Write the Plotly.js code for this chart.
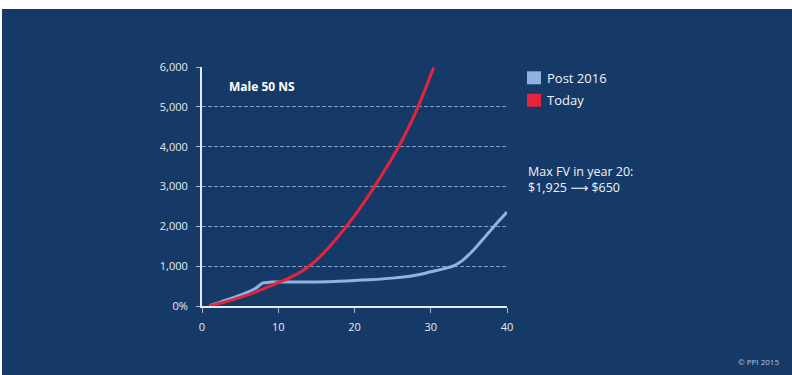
<!DOCTYPE html>
<html>
<head>
<meta charset="utf-8">
<script src="https://cdn.plot.ly/plotly-3.0.1.min.js"></script>
<style>
  html, body { margin: 0; padding: 0; background: #ffffff; width: 792px; height: 375px; overflow: hidden; }
  #chart { position: absolute; left: 2px; top: 9px; width: 790px; height: 366px; }
</style>
</head>
<body>
<div id="chart"></div>
<script>
// ---- data ----
const years = [1,2,3,4,5,6,7,8,9,10,11,12,13,14,15,16,17,18,19,20,21,22,23,24,25,26,27,28,29,30,30.4];
const todayValues = [5,50,100,155,215,280,350,425,505,590,665,755,860,990,1150,1340,1550,1775,2015,2270,2535,2815,3110,3420,3735,4075,4445,4855,5305,5795,5990];

const postYears = [1,2,3,4,5,6,7,8,9,10,12,15,18,20,22,25,27,28,29,30,31,32,33,34,35,36,37,38,39,40];
const postValues = [10,70,140,200,270,350,440,580,600,600,600,605,620,640,660,700,740,770,810,860,900,950,1010,1120,1290,1490,1710,1930,2150,2360];

const seriesNames = ["Post 2016", "Today"];
const seriesColors = ["#8fb4e3", "#e5233c"];

const yTickVals = [0,1000,2000,3000,4000,5000,6000];
const yTickText = ["0%","1,000","2,000","3,000","4,000","5,000","6,000"];
const xTickVals = [0,10,20,30,40];
const xTickText = ["0","10","20","30","40"];

const panelLabel = "Male 50 NS";
const noteLines = ["Max FV in year 20:", "$1,925 \u27F6 $650"];
const credit = "\u00A9 PPI 2015";

// ---- layout helpers (page pixel -> paper coords) ----
const divLeft = 2, divTop = 9, W = 790, H = 366;
const plotL = 202, plotR = 507, plotT = 66.7, plotB = 306;
const px = p => (p - plotL) / (plotR - plotL);
const py = p => (plotB - p) / (plotB - plotT);

const FONT = "Open Sans, DejaVu Sans, sans-serif";
const bg = "#153a68";

const traces = [
  { x: postYears, y: postValues, mode: "lines", name: seriesNames[0],
    line: { color: seriesColors[0], width: 3, shape: "spline", smoothing: 0.6 }, showlegend: false, hoverinfo: "skip" },
  { x: years, y: todayValues, mode: "lines", name: seriesNames[1],
    line: { color: seriesColors[1], width: 3, shape: "spline", smoothing: 0.8 }, showlegend: false, hoverinfo: "skip" }
];

const shapes = [];
const annotations = [];
const legendY = [77.5, 100];
seriesNames.forEach((n, i) => {
  shapes.push({ type: "rect", xref: "paper", yref: "paper",
    x0: px(527), x1: px(541), y0: py(legendY[i] + 6.5), y1: py(legendY[i] - 6.5),
    fillcolor: seriesColors[i], line: { width: 0 } });
  annotations.push({ xref: "paper", yref: "paper", x: px(545), y: py(legendY[i]),
    xanchor: "left", yanchor: "middle", showarrow: false, text: n,
    font: { family: FONT, size: 13, color: "#f2f4f8" } });
});

annotations.push({ xref: "paper", yref: "paper", x: px(262), y: py(86),
  xanchor: "center", yanchor: "middle", showarrow: false, text: "<b>" + panelLabel + "</b>",
  font: { family: FONT, size: 12, color: "#ffffff" } });

annotations.push({ xref: "paper", yref: "paper", x: px(526), y: py(161),
  xanchor: "left", yanchor: "top", align: "left", showarrow: false,
  text: noteLines.join("<br>"),
  font: { family: FONT, size: 12.5, color: "#f2f4f8" } });

annotations.push({ xref: "paper", yref: "paper", x: px(781), y: py(362),
  xanchor: "right", yanchor: "middle", showarrow: false, text: credit,
  font: { family: FONT, size: 8, color: "#b9c6d8" } });

const layout = {
  width: W, height: H,
  paper_bgcolor: bg, plot_bgcolor: bg,
  margin: { l: plotL - divLeft, r: (divLeft + W) - plotR, t: plotT - divTop, b: (divTop + H) - plotB, pad: 0 },
  showlegend: false,
  xaxis: {
    range: [0, 40], tickvals: xTickVals, ticktext: xTickText,
    showgrid: false, zeroline: false,
    showline: true, linecolor: "#e6ebf2", linewidth: 2,
    ticks: "outside", ticklen: 5, tickwidth: 1, tickcolor: "#9db8d8",
    ticklabelstandoff: 5,
    tickfont: { family: FONT, size: 11, color: "#e6ebf2" },
    fixedrange: true
  },
  yaxis: {
    range: [0, 6000], tickvals: yTickVals, ticktext: yTickText,
    showgrid: true, gridcolor: "rgba(170,200,235,0.7)", gridwidth: 1, griddash: "4px,2px",
    zeroline: false,
    showline: true, linecolor: "#e6ebf2", linewidth: 2,
    ticks: "outside", ticklen: 4, tickwidth: 1, tickcolor: "#9db8d8",
    ticklabelstandoff: 6,
    tickfont: { family: FONT, size: 11, color: "#e6ebf2" },
    fixedrange: true
  },
  shapes: shapes,
  annotations: annotations
};

Plotly.newPlot("chart", traces, layout, { displayModeBar: false, staticPlot: true });
</script>
</body>
</html>
